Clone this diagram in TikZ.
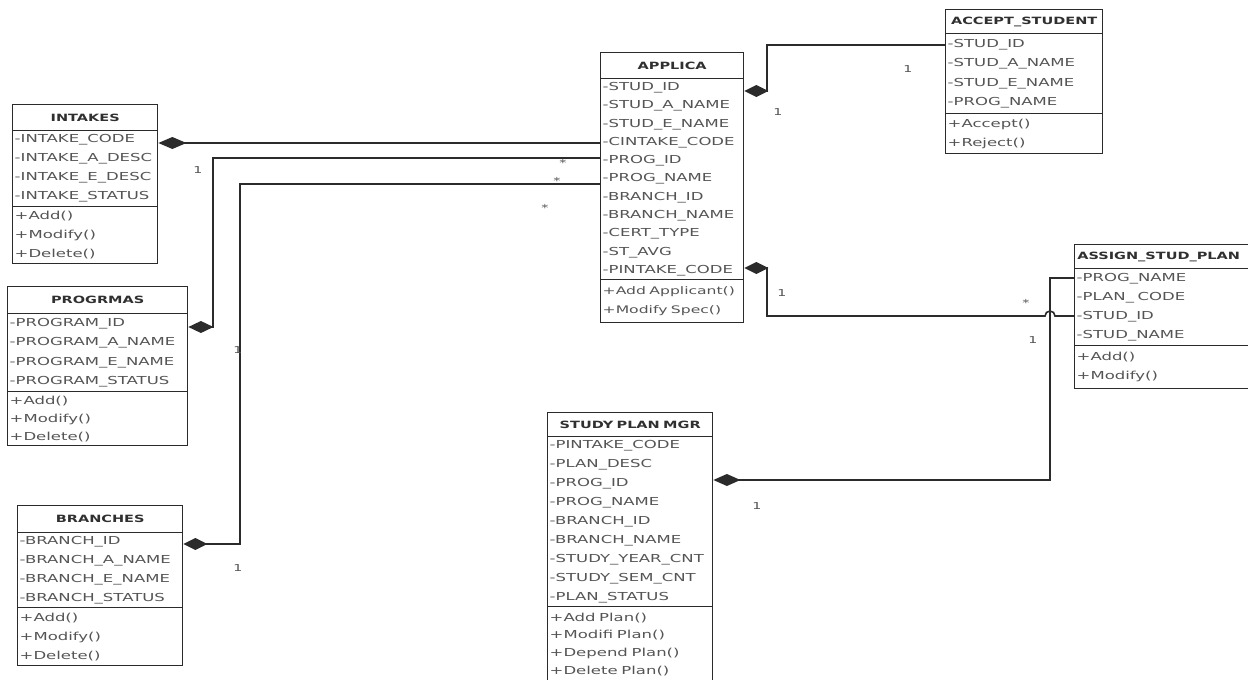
\documentclass[tikz,border=0pt]{standalone}
\usepackage{fontspec}
\setmainfont{DejaVu Sans}[FakeStretch=1.5]
\newfontfamily\ttlfont{DejaVu Sans}[FakeStretch=1.45]
\usetikzlibrary{arrows.meta}
\definecolor{linec}{HTML}{2B2B2B}
\definecolor{txtc}{HTML}{555555}
\definecolor{ttlc}{HTML}{303030}
\tikzset{
  boxttl/.style={draw=linec, line width=1.4pt, anchor=north west, inner xsep=0pt, inner ysep=0pt,
     align=center, text=ttlc, font=\ttlfont\fontsize{10}{11}\selectfont\bfseries},
  boxcmp/.style={draw=linec, line width=1.4pt, anchor=north west, inner xsep=2pt, inner ysep=0pt,
     align=left, text=txtc, font=\fontsize{11}{#1}\selectfont},
  conn/.style={draw=linec, line width=1.6pt},
  comp/.style={conn, {Diamond[length=#1pt,width=12pt,fill=linec,color=linec]}-},
  mult/.style={text=txtc, font=\fontsize{9.5}{10}\selectfont, inner sep=0pt},
}
\begin{document}
\begin{tikzpicture}[x=1pt,y=-1pt]
\useasboundingbox[fill=white] (0,0) rectangle (1248,680);

% INTAKES
\node[boxttl, text width=145pt, minimum height=26pt] (intakes-t) at (12,104) {INTAKES};
\node[boxcmp=19pt, text width=141pt, minimum height=76pt] (intakes-a) at (12,130)
  {-INTAKE\_CODE\\-INTAKE\_A\_DESC\\-INTAKE\_E\_DESC\\-INTAKE\_STATUS};
\node[boxcmp=19pt, text width=141pt, minimum height=57pt] (intakes-m) at (12,206)
  {+Add()\\+Modify()\\+Delete()};

% PROGRMAS
\node[boxttl, text width=180pt, minimum height=27pt] (progrmas-t) at (7,286) {PROGRMAS};
\node[boxcmp=19.5pt, text width=176pt, minimum height=78pt] (progrmas-a) at (7,313)
  {-PROGRAM\_ID\\-PROGRAM\_A\_NAME\\-PROGRAM\_E\_NAME\\-PROGRAM\_STATUS};
\node[boxcmp=18pt, text width=176pt, minimum height=54pt] (progrmas-m) at (7,391)
  {+Add()\\+Modify()\\+Delete()};

% BRANCHES
\node[boxttl, text width=165pt, minimum height=27pt] (branches-t) at (17,505) {BRANCHES};
\node[boxcmp=18.75pt, text width=161pt, minimum height=75pt] (branches-a) at (17,532)
  {-BRANCH\_ID\\-BRANCH\_A\_NAME\\-BRANCH\_E\_NAME\\-BRANCH\_STATUS};
\node[boxcmp=19pt, text width=161pt, minimum height=58pt] (branches-m) at (17,607)
  {+Add()\\+Modify()\\+Delete()};

% APPLICA
\node[boxttl, text width=143pt, minimum height=26pt] (applica-t) at (600,52) {APPLICA};
\node[boxcmp=18.3pt, text width=139pt, minimum height=201pt] (applica-a) at (600,78)
  {-STUD\_ID\\-STUD\_A\_NAME\\-STUD\_E\_NAME\\-CINTAKE\_CODE\\-PROG\_ID\\-PROG\_NAME\\-BRANCH\_ID\\-BRANCH\_NAME\\-CERT\_TYPE\\-ST\_AVG\\-PINTAKE\_CODE};
\node[boxcmp=19pt, text width=139pt, minimum height=43pt, font=\fontsize{10.4}{19}\selectfont] (applica-m) at (600,279)
  {\mbox{+Add Applicant()}\\\mbox{+Modify Spec()}};

% ACCEPT_STUDENT
\node[boxttl, text width=157pt, minimum height=24pt] (accept-t) at (945,9) {ACCEPT\_STUDENT};
\node[boxcmp=19.5pt, text width=153pt, minimum height=80pt] (accept-a) at (945,33)
  {-STUD\_ID\\-STUD\_A\_NAME\\-STUD\_E\_NAME\\-PROG\_NAME};
\node[boxcmp=19pt, text width=153pt, minimum height=40pt] (accept-m) at (945,113)
  {+Accept()\\+Reject()};

% ASSIGN_STUD_PLAN
\node[boxttl, text width=180pt, minimum height=24pt] (assign-t) at (1074,244) {\hspace*{-12pt}ASSIGN\_STUD\_PLAN};
\node[boxcmp=19pt, text width=176pt, minimum height=77pt] (assign-a) at (1074,268)
  {-PROG\_NAME\\-PLAN\_\ CODE\\-STUD\_ID\\-STUD\_NAME};
\node[boxcmp=19pt, text width=176pt, minimum height=43pt] (assign-m) at (1074,345)
  {+Add()\\+Modify()};

% STUDY PLAN MGR
\node[boxttl, text width=165pt, minimum height=24pt] (study-t) at (547,412) {STUDY PLAN MGR};
\node[boxcmp=18.9pt, text width=161pt, minimum height=170pt] (study-a) at (547,436)
  {-PINTAKE\_CODE\\-PLAN\_DESC\\-PROG\_ID\\-PROG\_NAME\\-BRANCH\_ID\\-BRANCH\_NAME\\-STUDY\_YEAR\_CNT\\-STUDY\_SEM\_CNT\\-PLAN\_STATUS};
\node[boxcmp=17.7pt, text width=161pt, minimum height=75pt] (study-m) at (547,606)
  {\mbox{+Add Plan()}\\\mbox{+Modifi Plan()}\\\mbox{+Depend Plan()}\\\mbox{+Delete Plan()}};

% connectors
\draw[comp=28] (intakes-a.east |- 0,143) -- (applica-a.west |- 0,143);
\draw[comp=25] (progrmas-a.east |- 0,327) -| (213,158) -- (applica-a.west |- 0,158);
\draw[comp=24] (branches-a.east |- 0,544) -| (240,184) -- (applica-a.west |- 0,184);
\draw[comp=24] (applica-a.east |- 0,91) -| (767,45) -- (accept-a.west |- 0,45);
\draw[comp=24] (applica-a.east |- 0,268) -| (767,316) -- (1045,316)
   arc[start angle=180,end angle=0,radius=5pt] -- (assign-a.west |- 0,316);
\draw[comp=27] (study-a.east |- 0,480) -| (1050,278) -- (assign-a.west |- 0,278);

% multiplicities
\node[mult] (m1) at (198,170) {1};
\node[mult] (m2) at (563,163) {*};
\node[mult] (m3) at (557,181) {*};
\node[mult] (m4) at (545,208) {*};
\node[mult] (m5) at (238,350) {1};
\node[mult] (m6) at (238,568) {1};
\node[mult] (m7) at (908,69) {1};
\node[mult] (m8) at (778,112) {1};
\node[mult] (m9) at (782,293) {1};
\node[mult] (m10) at (1026,303) {*};
\node[mult] (m11) at (1033,340) {1};
\node[mult] (m12) at (757,506) {1};
\end{tikzpicture}
\end{document}
